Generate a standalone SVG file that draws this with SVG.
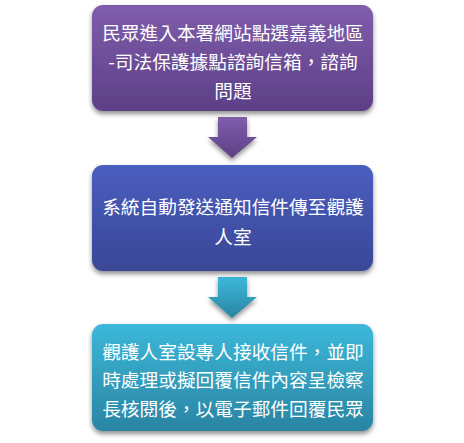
<svg xmlns="http://www.w3.org/2000/svg" width="464" height="443" viewBox="0 0 464 443">
<style>
.t{font-family:"Noto Sans CJK TC","Noto Sans CJK SC",sans-serif;font-size:18.7px;fill:#ffffff;text-anchor:middle;dominant-baseline:central}
</style>
<defs>
<linearGradient id="gp" x1="0" y1="0" x2="0" y2="1"><stop offset="0" stop-color="#7f5dac"/><stop offset="1" stop-color="#5d3f86"/></linearGradient>
<linearGradient id="gb" x1="0" y1="0" x2="0" y2="1"><stop offset="0" stop-color="#4a5ec0"/><stop offset="1" stop-color="#3a4796"/></linearGradient>
<linearGradient id="gt" x1="0" y1="0" x2="0" y2="1"><stop offset="0" stop-color="#3cb8da"/><stop offset="1" stop-color="#2a84a2"/></linearGradient>
<filter id="sh" x="-10%" y="-10%" width="120%" height="130%"><feGaussianBlur in="SourceAlpha" stdDeviation="2.5"/><feOffset dy="3" result="b"/><feComponentTransfer><feFuncA type="linear" slope="0.45"/></feComponentTransfer><feMerge><feMergeNode/><feMergeNode in="SourceGraphic"/></feMerge></filter>
</defs>
<rect width="464" height="443" fill="#ffffff"/>
<g id="connectors">
<polygon points="218,117 247,117 247,137 257,137 232,158 208,137 218,137" fill="url(#gp)" filter="url(#sh)"/>
<polygon points="218,277 247,277 247,297 257,297 232,318 208,297 218,297" fill="url(#gt)" filter="url(#sh)"/>
</g>
<g id="node1">
<rect x="92" y="5" width="281" height="106" rx="11" fill="url(#gp)" filter="url(#sh)"/>
<text class="t" x="233" y="31">民眾進入本署網站點選嘉義地區</text>
<text class="t" x="233" y="60">-司法保護據點諮詢信箱，諮詢</text>
<text class="t" x="233" y="89">問題</text>
</g>
<g id="node2">
<rect x="92" y="165" width="281" height="106" rx="11" fill="url(#gb)" filter="url(#sh)"/>
<text class="t" x="233" y="205">系統自動發送通知信件傳至觀護</text>
<text class="t" x="233" y="235">人室</text>
</g>
<g id="node3">
<rect x="92" y="324" width="281" height="107" rx="11" fill="url(#gt)" filter="url(#sh)"/>
<text class="t" x="233" y="350">觀護人室設專人接收信件，並即</text>
<text class="t" x="233" y="378.5">時處理或擬回覆信件內容呈檢察</text>
<text class="t" x="233" y="407">長核閱後，以電子郵件回覆民眾</text>
</g>
</svg>
